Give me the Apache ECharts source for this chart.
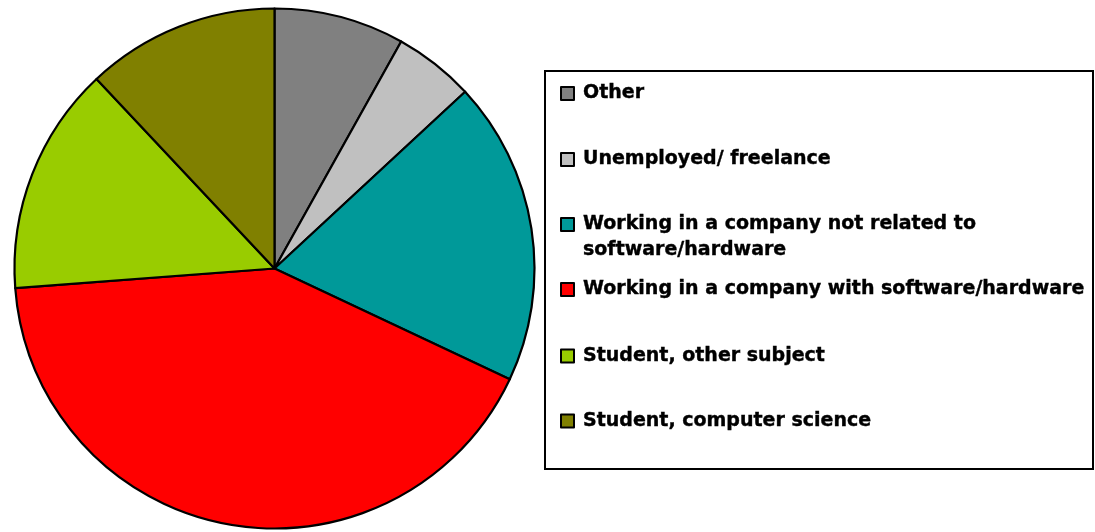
<!DOCTYPE html>
<html>
<head>
<meta charset="utf-8">
<style>
  html, body { margin: 0; padding: 0; background: #ffffff; }
  #chart { width: 1095px; height: 532px; }
</style>
<script src="https://cdn.jsdelivr.net/npm/echarts@6/dist/echarts.min.js"></script>
</head>
<body>
<div id="chart"></div>
<script>
// Occupation of respondents (share of answers, %)
const categories = [
  'Other',
  'Unemployed/ freelance',
  'Working in a company not related to\nsoftware/hardware',
  'Working in a company with software/hardware',
  'Student, other subject',
  'Student, computer science'
];
const shares = [8.1, 5.0, 18.9, 41.8, 14.2, 12.0];
const colors = ['#808080', '#C0C0C0', '#009999', '#FF0000', '#99CC00', '#808000'];

// Vertical centre of each legend row (first text line)
const legendRowY = [93.5, 159.5, 224.5, 289.5, 356, 421];
const LINE_H = 26;

const chart = echarts.init(document.getElementById('chart'), null, { renderer: 'canvas' });

const legends = categories.map((name, i) => {
  const extra = name.split('\n').length - 1;
  // a multi-line entry keeps its marker beside the first line:
  // blank lines on top balance the extra lines below
  const prefix = '\n'.repeat(extra);
  const totalLines = 1 + 2 * extra;
  return {
    orient: 'vertical',
    left: 560,
    top: legendRowY[i] - (totalLines * LINE_H) / 2,
    padding: 0,
    itemWidth: 13,
    itemHeight: 13,
    icon: 'rect',
    selectedMode: false,
    data: [name],
    formatter: (n) => prefix + n,
    itemStyle: { borderColor: '#000000', borderWidth: 2 },
    textStyle: {
      fontFamily: 'DejaVu Sans',
      fontWeight: 'bold',
      fontSize: 19,
      color: '#000000',
      textBorderColor: '#000000',
      textBorderWidth: 0.4,
      lineHeight: LINE_H,
      padding: [0, 0, 0, 4]
    }
  };
});

chart.setOption({
  animation: false,
  backgroundColor: '#ffffff',
  color: colors,
  graphic: [{
    type: 'rect',
    z: 0,
    shape: { x: 545, y: 71, width: 548, height: 398 },
    style: { fill: '#ffffff', stroke: '#000000', lineWidth: 2 }
  }],
  legend: legends,
  series: [{
    type: 'pie',
    center: [274.5, 268.5],
    radius: [0, 260],
    startAngle: 90,
    clockwise: true,
    avoidLabelOverlap: false,
    label: { show: false },
    labelLine: { show: false },
    emphasis: { disabled: true },
    itemStyle: { borderColor: '#000000', borderWidth: 2.2 },
    data: categories.map((name, i) => ({ name: name, value: shares[i] }))
  }]
});
</script>
</body>
</html>
